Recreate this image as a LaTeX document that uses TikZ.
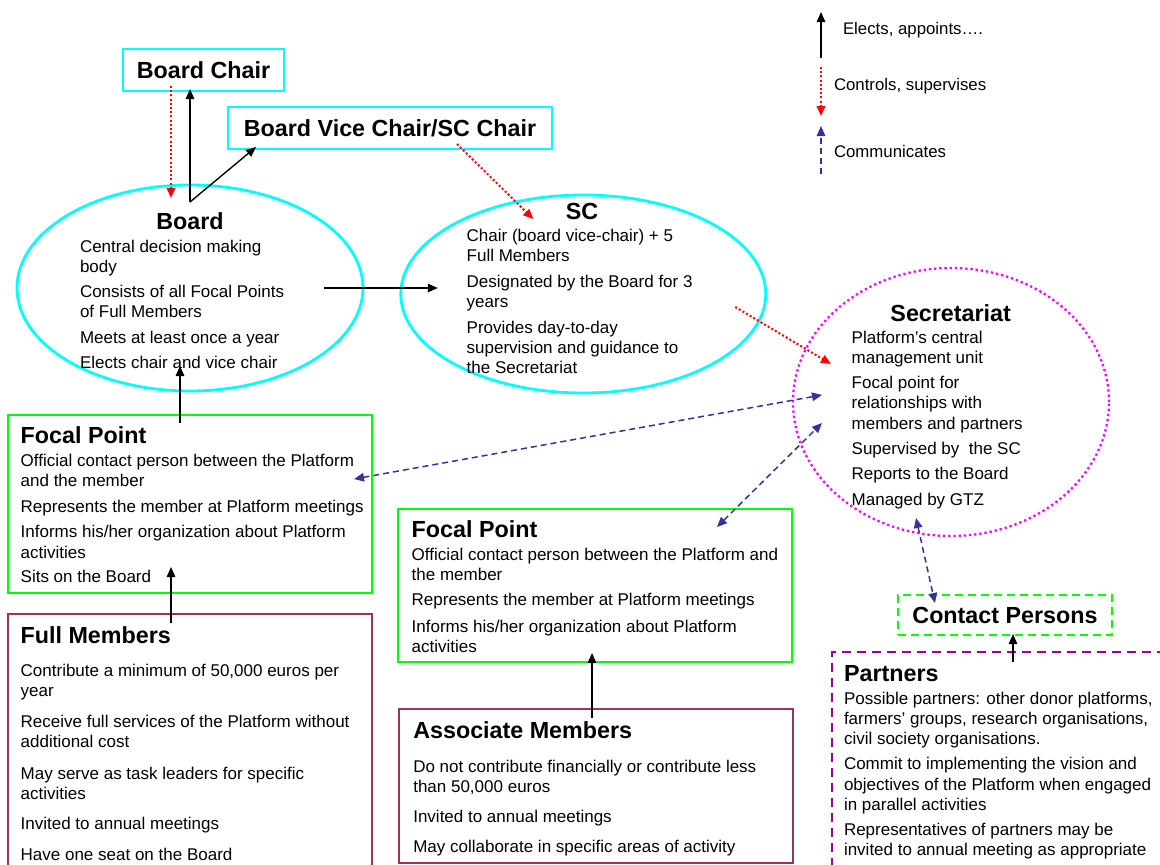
\documentclass[tikz,border=0pt]{standalone}
\usepackage{fontspec}
\setmainfont{Liberation Sans}
\usetikzlibrary{arrows.meta,shapes.geometric,calc}

\definecolor{aqua}{RGB}{0,255,255}
\definecolor{lime}{RGB}{0,255,0}
\definecolor{plum}{RGB}{153,51,102}
\definecolor{grape}{RGB}{153,0,153}
\definecolor{navyblue}{RGB}{51,51,153}
\definecolor{pinkdot}{RGB}{255,0,255}

% fixed-height opening of a text block: its first baseline sits 13pt below the node's top
\newcommand\toprow{\rule{0pt}{13pt}}

\tikzset{
  headtxt/.style={font=\fontsize{23.3}{28}\selectfont\bfseries},
  bodytxt/.style={font=\fontsize{17}{20.2}\selectfont, align=left, anchor=north west},
  keytxt/.style={font=\fontsize{16.8}{20}\selectfont, anchor=base west},
  cyanbox/.style={draw=aqua, line width=2.8pt, minimum width=#1},
  greenbox/.style={draw=lime, line width=2.8pt},
  plumbox/.style={draw=plum, line width=2.2pt},
  oval/.style={ellipse, draw=aqua, line width=2.8pt},
  tipE/.tip={Triangle[length=10pt,width=8.5pt]},
  electline/.style={draw=black, line width=1.4pt, -tipE},
  superline/.style={draw=red, line width=2pt, dash pattern=on 2pt off 2.2pt, -tipE},
  commline/.style={draw=navyblue, line width=1.5pt, dash pattern=on 6pt off 4pt, tipE-tipE},
  commkey/.style={draw=navyblue, line width=1.5pt, dash pattern=on 6pt off 4pt, -tipE}
}

\begin{document}
\begin{tikzpicture}[x=1pt,y=-1pt, every node/.style={inner sep=0pt, outer sep=0pt}]
\useasboundingbox (0,0) rectangle (1160,865);
\clip (0,0) rectangle (1160,865);
\fill[white] (0,0) rectangle (1160,865);

% ---------- shapes ----------
\node[cyanbox=161pt, minimum height=42pt, headtxt] (chair) at (203.5,70) {Board Chair};
\node[cyanbox=324pt, minimum height=42pt, headtxt] (vice) at (390,128) {Board Vice Chair/SC Chair};
\node[oval, minimum width=346pt, minimum height=206pt] (board) at (190,288) {};
\node[oval, minimum width=365pt, minimum height=198pt] (sc) at (583.3,294) {};
\node[ellipse, draw=pinkdot, line width=2.3pt, dash pattern=on 2.3pt off 2.9pt,
      minimum width=316pt, minimum height=268pt] (sec) at (951,402) {};
\node[greenbox, minimum width=364pt, minimum height=178pt] (fp1) at (190,504) {};
\node[greenbox, minimum width=394pt, minimum height=153pt] (fp2) at (595,585.5) {};
\node[plumbox, minimum width=364pt, minimum height=266pt] (full) at (190,747) {};
\node[plumbox, minimum width=394pt, minimum height=154pt] (assoc) at (596,786) {};
\node[draw=lime, line width=2.3pt, dash pattern=on 8pt off 5pt,
      minimum width=214pt, minimum height=40pt, headtxt] (contact) at (1005,615) {Contact Persons};
\node[draw=grape, line width=2.3pt, dash pattern=on 9pt off 6pt,
      minimum width=348pt, minimum height=238pt] (partners) at (1006,771) {};

% ---------- texts ----------
\node[headtxt, anchor=base] (boardT) at (190,229) {Board};
\node[bodytxt] (boardB) at (80,239.5) {\toprow Central decision making\\body\\[4.5pt]Consists of all Focal Points\\of Full Members\\[5.5pt]Meets at least once a year\\[4.5pt]Elects chair and vice chair};

\node[headtxt, anchor=base] (scT) at (582,219.3) {SC};
\node[bodytxt] (scB) at (466.7,228.7) {\toprow Chair (board vice-chair) + 5\\Full Members\\[5.5pt]Designated by the Board for 3\\years\\[5.5pt]Provides day-to-day\\supervision and guidance to\\the Secretariat};

\node[headtxt, anchor=base] (secT) at (950.7,321) {Secretariat};
\node[bodytxt] (secB) at (851.7,330.3) {\toprow Platform’s central\\management unit\\[5pt]Focal point for\\relationships with\\members and partners\\[5pt]Supervised by\ \ the SC\\[5pt]Reports to the Board\\[5.5pt]Managed by GTZ};

\node[headtxt, anchor=base west] (fp1T) at (20.7,443.3) {Focal Point};
\node[bodytxt] (fp1B) at (20.7,453.7) {\toprow Official contact person between the Platform\\and the member\\[5pt]Represents the member at Platform meetings\\[5.5pt]Informs his/her organization about Platform\\activities\\[4.5pt]Sits on the Board};

\node[headtxt, anchor=base west] (fp2T) at (411.7,537.3) {Focal Point};
\node[bodytxt] (fp2B) at (411.7,547) {\toprow Official contact person between the Platform and\\the member\\[5pt]Represents the member at Platform meetings\\[6.5pt]Informs his/her organization about Platform\\activities};

\node[headtxt, anchor=base west] (fullT) at (20.7,643.3) {Full Members};
\node[bodytxt] (fullB) at (20.7,663.7) {\toprow Contribute a minimum of 50,000 euros per\\year\\[10.5pt]Receive full services of the Platform without\\additional cost\\[11pt]May serve as task leaders for specific\\activities\\[10pt]Invited to annual meetings\\[10.5pt]Have one seat on the Board};

\node[headtxt, anchor=base west] (assocT) at (413.3,738.3) {Associate Members};
\node[bodytxt] (assocB) at (413.3,759) {\toprow Do not contribute financially or contribute less\\than 50,000 euros\\[10.5pt]Invited to annual meetings\\[9pt]May collaborate in specific areas of activity};

\node[headtxt, anchor=base west] (partT) at (844,681.7) {Partners};
\node[bodytxt] (partB) at (844,691.3) {\toprow Possible partners: other donor platforms,\\farmers’ groups, research organisations,\\civil society organisations.\\[5pt]Commit to implementing the vision and\\objectives of the Platform when engaged\\in parallel activities\\[5pt]Representatives of partners may be\\invited to annual meeting as appropriate};

% ---------- key ----------
\node[keytxt] (keyE) at (843,34.3) {Elects, appoints….};
\node[keytxt] (keyC) at (834,90.7) {Controls, supervises};
\node[keytxt] (keyM) at (834,157.3) {Communicates};
\coordinate (kE1) at (821,58);  \coordinate (kE2) at (821,12);
\coordinate (kC1) at (821,67);  \coordinate (kC2) at (821,116);
\coordinate (kM1) at (821,174); \coordinate (kM2) at (821,126);
\draw[electline] (kE1) -- (kE2);
\draw[superline] (kC1) -- (kC2);
\draw[commkey] (kM1) -- (kM2);

% ---------- connectors ----------
\coordinate (boardTop) at ($(board.north)+(0,17)$);
\draw[superline] ($(chair.south)+(-32.5,-5)$) -- ($(board.north)+(-19,13)$);
\draw[electline] (boardTop) -- ($(chair.south)+(-13.5,-2)$);
\draw[electline] (boardTop) -- ($(vice.south west)+(28,-2)$);
\draw[superline] ($(vice.south)+(67,-5)$) -- ($(sc.north)+(-50,24)$);
\draw[electline] ($(board.center)+(134,0)$) -- ($(sc.west)+(37,-6)$);
\draw[superline] ($(sc.center)+(152,13)$) -- ($(sec.west)+(38,-38)$);
\draw[commline] ($(fp1.east)+(-18,-25)$) -- ($(sec.west)+(29,-7)$);
\draw[commline] ($(fp2.north east)+(-75,18)$) -- ($(sec.west)+(29,21)$);
\draw[commline] ($(sec.south)+(-35,-18)$) -- ($(contact.north west)+(37,8)$);
\draw[electline] ($(fp1.north)+(-10,8)$) -- ($(board.south)+(-10,-25)$);
\draw[electline] ($(full.north)+(-19,9)$) -- ($(fp1.south)+(-19,-26)$);
\draw[electline] ($(assoc.north)+(-4,9)$) -- ($(fp2.south)+(-3,-9)$);
\draw[electline] ($(partners.north)+(7,10)$) -- ($(contact.south)+(8,-1)$);
\end{tikzpicture}
\end{document}
